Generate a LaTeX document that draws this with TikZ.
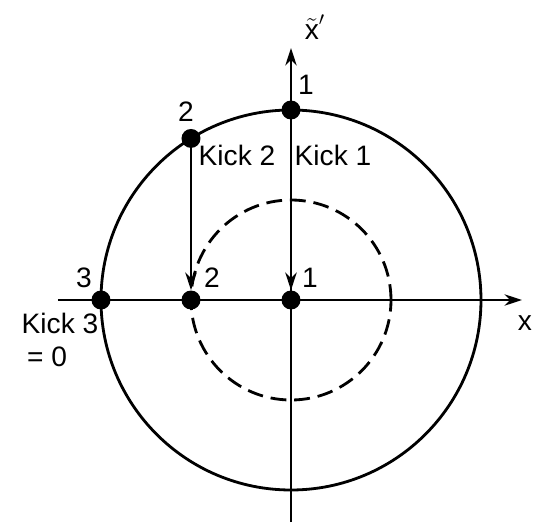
\documentclass[tikz,border=0pt]{standalone}
\usepackage{amsmath}
\usepackage{fontspec}
\setmainfont{Liberation Sans}
\usetikzlibrary{arrows.meta}

\begin{document}
\begin{tikzpicture}[>={Stealth[length=10pt,width=6.5pt]},
  dot/.style={circle, fill, inner sep=0pt, minimum size=0.38cm},
  lbl/.style={font=\fontsize{16}{18}\selectfont, inner sep=1pt}]
  \useasboundingbox (-5.82,-4.56) rectangle (4.88,6.0);

  % Axes
  \coordinate (xs) at (-4.66,0);
  \coordinate (xe) at (4.62,0);
  \coordinate (ys) at (0,-4.44);
  \coordinate (ye) at (0,5.04);
  \draw[line width=1.1pt, ->] (xs) -- (xe);
  \draw[line width=1.1pt, ->] (ys) -- (ye);
  \node[lbl] (xlab) at (4.68,-0.46) {x};
  \node[lbl] (ylab) at (0.48,5.45) {$\tilde{\text{x}}'$};

  % Circles
  \draw[line width=1.6pt] (0,0) circle (3.8);
  \draw[line width=1.6pt, dash pattern=on 9pt off 4.5pt] (0,0) circle (2);

  % Points on the outer circle and on the axis
  \node[dot] (p1) at (0,3.8) {};
  \node[dot] (p2) at (-2,3.231) {};
  \node[dot] (p3) at (-3.8,0) {};
  \node[dot] (q2) at (-2,0) {};
  \node[dot] (q1) at (0,0) {};

  % Kicks
  \draw[line width=1.6pt, ->] (p1) -- (q1);
  \draw[line width=1.6pt, ->] (p2) -- (q2);

  % Labels
  \node[lbl] (l1) at (0.3,4.3) {1};
  \node[lbl] (l2) at (-2.1,3.76) {2};
  \node[lbl] (l3) at (-4.14,0.44) {3};
  \node[lbl] (m2) at (-1.58,0.44) {2};
  \node[lbl] (m1) at (0.38,0.44) {1};
  \node[lbl] (k2) at (-1.08,2.9) {Kick 2};
  \node[lbl] (k1) at (0.84,2.9) {Kick 1};
  \node[lbl] (k3) at (-4.62,-0.46) {Kick 3};
  \node[lbl] (k0) at (-4.88,-1.14) {= 0};
\end{tikzpicture}
\end{document}
